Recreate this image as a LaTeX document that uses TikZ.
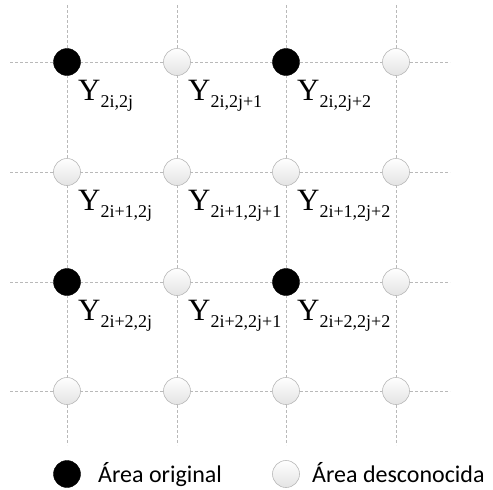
\documentclass[tikz,border=0pt]{standalone}
\usepackage{fontspec}
\setmainfont{Liberation Serif}
\newfontfamily\legendfont{Carlito}
\begin{document}
\begin{tikzpicture}[x=1pt,y=-1pt,
  gridline/.style={draw=gray!55,dashed,dash pattern=on 3pt off 2pt,line width=0.6pt},
  dot/.style={circle,minimum size=27pt,inner sep=0pt},
  orig/.style={dot,fill=black,draw=black},
  unk/.style={dot,draw=gray!55,line width=0.6pt,top color=white,bottom color=gray!22},
  ylab/.style={anchor=base west,inner sep=0pt,font=\fontsize{31}{31}\selectfont},
  legtext/.style={anchor=base west,inner sep=0pt,font=\legendfont\fontsize{24}{24}\selectfont}]
\useasboundingbox (0,0) rectangle (493,490);
% grid coordinates
\foreach \c/\x in {0/67,1/177,2/286,3/396}{
  \coordinate (vt\c) at (\x,5);
  \coordinate (vb\c) at (\x,445);
}
\foreach \r/\y in {0/62,1/172,2/282,3/391}{
  \coordinate (hl\r) at (10,\y);
  \coordinate (hr\r) at (450,\y);
}
\foreach \i in {0,1,2,3}{
  \draw[gridline] (vt\i) -- (vb\i);
  \draw[gridline] (hl\i) -- (hr\i);
}
% circles
\foreach \r/\y in {0/62,1/172,2/282,3/391}{
  \foreach \c/\x in {0/67,1/177,2/286,3/396}{
    \pgfmathtruncatemacro{\isorig}{(\r==0 || \r==2) && (\c==0 || \c==2) ? 1 : 0}
    \ifnum\isorig=1
      \node[orig] (n\r\c) at (\x,\y) {};
    \else
      \node[unk] (n\r\c) at (\x,\y) {};
    \fi
  }
}
% labels
\foreach \r/\y/\rs in {0/62/2i,1/172/2i+1,2/282/2i+2}{
  \foreach \c/\x/\cs in {0/67/2j,1/177/2j+1,2/286/2j+2}{
    \node[ylab] (l\r\c) at (\x+11,\y+38) {Y\raisebox{-7pt}{\fontsize{18}{18}\selectfont\rs,\cs}};
  }
}
% legend
\node[orig] (legO) at (67,474) {};
\node[legtext] (legOt) at (98,482) {Área original};
\node[unk] (legU) at (286,474) {};
\node[legtext] (legUt) at (312,482) {Área desconocida};
\end{tikzpicture}
\end{document}
